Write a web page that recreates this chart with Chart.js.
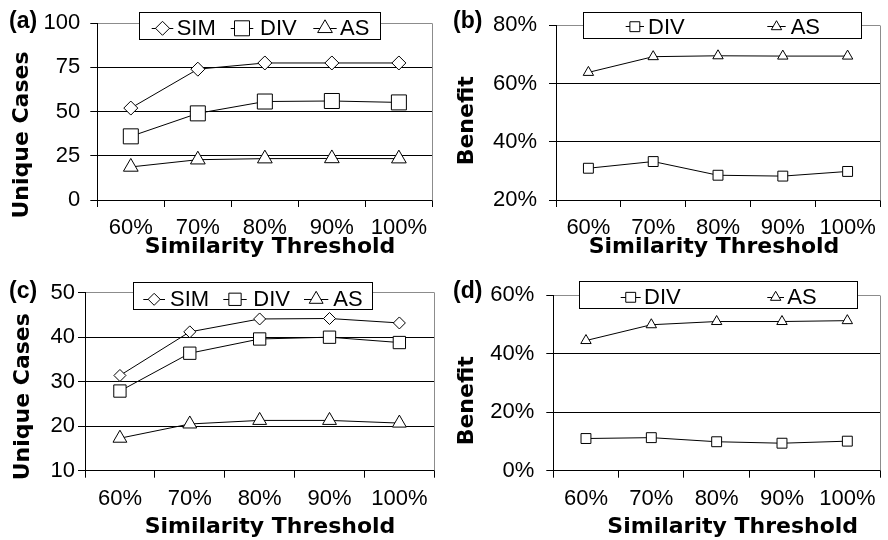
<!DOCTYPE html>
<html>
<head>
<meta charset="utf-8">
<script src="https://cdn.jsdelivr.net/npm/chart.js@4.4.1/dist/chart.umd.min.js"></script>
<style>
  html, body { margin: 0; padding: 0; background: #fff; }
  #wrap { position: relative; width: 888px; height: 540px; }
  .panel { position: absolute; width: 444px; height: 270px; }
</style>
</head>
<body>
<div id="wrap">
  <div class="panel" style="left:0;top:0"><canvas id="chartA" width="444" height="270"></canvas></div>
  <div class="panel" style="left:444px;top:0"><canvas id="chartB" width="444" height="270"></canvas></div>
  <div class="panel" style="left:0;top:270px"><canvas id="chartC" width="444" height="270"></canvas></div>
  <div class="panel" style="left:444px;top:270px"><canvas id="chartD" width="444" height="270"></canvas></div>
</div>
<script>
// categories shared by all four panels
const thresholds = ['60%', '70%', '80%', '90%', '100%'];

// (a) unique cases
const simA = [52, 74, 77.5, 77.5, 77.5];
const divA = [36, 49, 55.7, 56, 55.2];
const asA = [18.7, 22.8, 23.4, 23.5, 23.4];
const ticksA = [0, 25, 50, 75, 100];

// (b) benefit (%)
const divB = [30.9, 33.2, 28.5, 28.2, 29.8];
const asB = [63.8, 69.2, 69.5, 69.4, 69.4];
const ticksB = [20, 40, 60, 80];

// (c) unique cases
const simC = [31.4, 41.2, 44.1, 44.2, 43.2];
const divC = [27.9, 36.4, 39.6, 40, 38.8];
const asC = [17.3, 20.5, 21.3, 21.3, 20.7];
const ticksC = [10, 20, 30, 40, 50];

// (d) benefit (%)
const divD = [11.0, 11.3, 9.9, 9.4, 10.1];
const asD = [44.5, 49.9, 51.0, 51.0, 51.3];
const ticksD = [0, 20, 40, 60];

const tickFont = { family: "'Liberation Sans', Arial, sans-serif", size: 22 };
const titleFont = "bold 22px 'DejaVu Sans', sans-serif";
const labelFont = "bold 23px 'Liberation Sans', Arial, sans-serif";

function align(v) {
  return Math.round(v - 0.5) + 0.5;
}

// panel letter, axis titles, grey frame and the boxed legend
const panelDecor = {
  id: 'panelDecor',
  afterDatasetsDraw(chart, args, o) {
    const ctx = chart.ctx;
    const area = chart.chartArea;
    ctx.save();

    // grey right border of the plot area
    ctx.strokeStyle = '#8c8c8c';
    ctx.lineWidth = 1;
    ctx.beginPath();
    ctx.moveTo(align(area.right), align(area.top));
    ctx.lineTo(align(area.right), align(area.bottom));
    ctx.stroke();

    ctx.fillStyle = '#000';
    ctx.font = labelFont;
    ctx.textAlign = 'left';
    ctx.textBaseline = 'alphabetic';
    ctx.fillText(o.label, 9, 28);

    ctx.font = titleFont;
    ctx.textAlign = 'center';
    ctx.fillText(o.xTitle, o.xTitlePos[0], o.xTitlePos[1]);

    ctx.save();
    ctx.translate(o.yTitlePos[0], o.yTitlePos[1]);
    ctx.rotate(-Math.PI / 2);
    ctx.textBaseline = 'middle';
    ctx.fillText(o.yTitle, 0, 0);
    ctx.restore();

    // legend box
    const [bx, by, bw, bh] = o.legendBox;
    ctx.fillStyle = '#fff';
    ctx.fillRect(bx, by, bw, bh);
    ctx.strokeStyle = '#000';
    ctx.strokeRect(align(bx), align(by), Math.round(bw), Math.round(bh));

    chart.data.datasets.forEach((ds, i) => {
      const it = o.legendItems[i];
      const y = o.legendY;
      ctx.strokeStyle = '#000';
      ctx.lineWidth = 1;
      ctx.beginPath();
      ctx.moveTo(it[0], align(y));
      ctx.lineTo(it[1], align(y));
      ctx.stroke();
      ctx.fillStyle = '#fff';
      Chart.helpers.drawPoint(ctx, {
        pointStyle: ds.pointStyle,
        radius: ds.pointRadius,
        borderWidth: 1,
        rotation: 0,
      }, (it[0] + it[1]) / 2, y);
      ctx.fillStyle = '#000';
      ctx.font = "22px 'Liberation Sans', Arial, sans-serif";
      ctx.textAlign = 'left';
      ctx.textBaseline = 'middle';
      ctx.fillText(ds.label, it[2], y + 1);
    });
    ctx.restore();
  },
};

function series(label, data, style, radius) {
  return {
    label: label,
    data: data,
    borderColor: '#000',
    borderWidth: 1,
    pointStyle: style,
    pointRadius: radius,
    pointHoverRadius: radius,
    pointBackgroundColor: '#fff',
    pointBorderColor: '#000',
    pointBorderWidth: 1,
    tension: 0,
    fill: false,
  };
}

function makePanel(id, datasets, ticks, fmt, geo, decor) {
  const yMax = ticks[ticks.length - 1];
  new Chart(document.getElementById(id), {
    type: 'line',
    data: { labels: thresholds, datasets: datasets },
    options: {
      responsive: false,
      animation: false,
      events: [],
      layout: { padding: { left: 0, top: geo.top, right: 444 - geo.right, bottom: 0 } },
      plugins: {
        legend: { display: false },
        tooltip: { enabled: false },
        panelDecor: decor,
      },
      scales: {
        x: {
          offset: true,
          grid: { offset: true, drawOnChartArea: false, tickLength: 7, tickColor: '#000' },
          border: { color: '#000' },
          ticks: { color: '#000', font: tickFont, padding: 8, maxRotation: 0, autoSkip: false },
          afterFit: (s) => { s.height = 270 - geo.bottom; },
        },
        y: {
          min: ticks[0],
          max: yMax,
          grid: {
            color: (c) => (c.tick && c.tick.value === yMax ? '#8c8c8c' : '#000'),
            tickLength: 7,
            tickColor: '#000',
          },
          border: { color: '#000' },
          ticks: {
            stepSize: ticks[1] - ticks[0],
            color: '#000',
            font: tickFont,
            padding: geo.yPad,
            callback: (v) => v + fmt,
          },
          afterFit: (s) => { s.width = geo.left; },
        },
      },
    },
    plugins: [panelDecor],
  });
}

makePanel('chartA',
  [series('SIM', simA, 'rectRot', 7), series('DIV', divA, 'rect', 10.6), series('AS', asA, 'triangle', 8.5)],
  ticksA, '', { left: 97.3, top: 22, right: 437, bottom: 200, yPad: 10 },
  {
    label: '(a)', xTitle: 'Similarity Threshold', xTitlePos: [270, 253],
    yTitle: 'Unique Cases', yTitlePos: [22, 135],
    legendBox: [139.3, 12, 240.7, 27.3], legendY: 28.3,
    legendItems: [[151.7, 173.3, 176.7], [230.7, 253.3, 260], [313.3, 336.7, 340]],
  });

makePanel('chartB',
  [series('DIV', divB, 'rect', 7), series('AS', asB, 'triangle', 6)],
  ticksB, '%', { left: 112, top: 22, right: 443.3, bottom: 200, yPad: 12 },
  {
    label: '(b)', xTitle: 'Similarity Threshold', xTitlePos: [270, 253],
    yTitle: 'Benefit', yTitlePos: [23, 120.8],
    legendBox: [139.3, 12, 278, 26], legendY: 26.7,
    legendItems: [[181.7, 200, 204], [323.3, 341.7, 346.7]],
  });

makePanel('chartC',
  [series('SIM', simC, 'rectRot', 6), series('DIV', divC, 'rect', 8.7), series('AS', asC, 'triangle', 8)],
  ticksC, '', { left: 85, top: 22.7, right: 436.7, bottom: 200.7, yPad: 3 },
  {
    label: '(c)', xTitle: 'Similarity Threshold', xTitlePos: [270, 262.7],
    yTitle: 'Unique Cases', yTitlePos: [23, 126.7],
    legendBox: [133.3, 12, 238.7, 27.3], legendY: 29.3,
    legendItems: [[143.3, 165, 170], [223.3, 246.7, 253.3], [304, 328.3, 333.3]],
  });

makePanel('chartD',
  [series('DIV', divD, 'rect', 7), series('AS', asD, 'triangle', 6)],
  ticksD, '%', { left: 109.3, top: 22.7, right: 438.7, bottom: 200.7, yPad: 12 },
  {
    label: '(d)', xTitle: 'Similarity Threshold', xTitlePos: [288.7, 262.7],
    yTitle: 'Benefit', yTitlePos: [23, 130.8],
    legendBox: [135.3, 11.3, 278, 27.4], legendY: 27.3,
    legendItems: [[176.7, 196.7, 200], [323.3, 340, 343.3]],
  });
</script>
</body>
</html>
